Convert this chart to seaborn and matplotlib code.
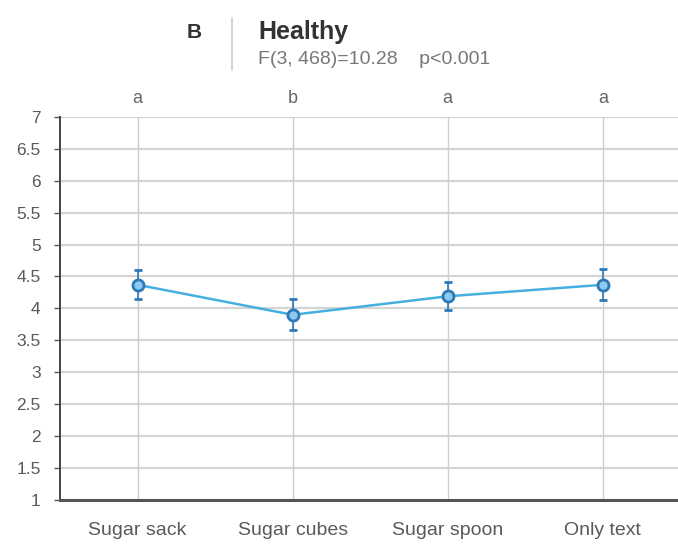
import matplotlib
matplotlib.use("Agg")
import matplotlib.pyplot as plt
import seaborn as sns
import pandas as pd

categories = ["Sugar sack", "Sugar cubes", "Sugar spoon", "Only text"]
means = [4.37, 3.90, 4.19, 4.37]
errors = [0.23, 0.24, 0.22, 0.24]
group_letters = ["a", "b", "a", "a"]
y_ticks = [1, 1.5, 2, 2.5, 3, 3.5, 4, 4.5, 5, 5.5, 6, 6.5, 7]
y_tick_labels = ["1", "1.5", "2", "2.5", "3", "3.5", "4", "4.5", "5", "5.5", "6", "6.5", "7"]

sns.set_style("white")
plt.rcParams["font.family"] = ["Liberation Sans", "DejaVu Sans"]

df = pd.DataFrame({"condition": categories, "score": means})

fig = plt.figure(figsize=(6.78, 5.45), dpi=100)
ax = fig.add_axes([0.0885, 0.0826, 0.915, 0.703])

line_col = "#45b0e0"
edge_col = "#2f78b8"

sns.pointplot(data=df, x="condition", y="score", errorbar=None, ax=ax,
              color=line_col, markers="o", linewidth=1.8, markersize=0, zorder=3)
ax.errorbar(range(len(categories)), means, yerr=errors, fmt="o", ms=8,
            mfc="#8ccbee", mec=edge_col, mew=2, ecolor=edge_col, elinewidth=1.2,
            capsize=3, capthick=1.2, zorder=4)

ax.set_xlim(-0.5, 3.5)
ax.set_ylim(1, 7)
ax.set_yticks(y_ticks)
ax.set_yticklabels(y_tick_labels)
ax.set_xlabel("")
ax.set_ylabel("")

for y in y_ticks[1:]:
    ax.axhline(y, color="#d4d4d4", lw=1.6, zorder=1)
for x in range(len(categories)):
    ax.axvline(x, color="#cfcfcf", lw=1.0, zorder=1)

for side in ["top", "right"]:
    ax.spines[side].set_visible(False)
ax.spines["left"].set_color("#444444")
ax.spines["left"].set_linewidth(1.4)
ax.spines["bottom"].set_color("#555555")
ax.spines["bottom"].set_linewidth(2.2)

ax.tick_params(axis="y", length=4, width=1, color="#555555", labelsize=12.5,
               labelcolor="#5a5a5a", pad=10, left=True)
ax.tick_params(axis="x", length=0, labelsize=14, labelcolor="#5a5a5a", pad=16)

for i, letter in enumerate(group_letters):
    ax.text(i, 7.15, letter, ha="center", va="bottom", fontsize=13, color="#666666")

fig.text(194 / 678, 1 - 33 / 545, "B", ha="center", va="center", fontsize=15,
         fontweight="bold", color="#333333")
fig.add_artist(plt.Line2D([232 / 678, 232 / 678], [1 - 18 / 545, 1 - 70 / 545],
                          color="#cccccc", lw=1.2))
fig.text(258 / 678, 1 - 32 / 545, "Healthy", ha="left", va="center", fontsize=18,
         fontweight="bold", color="#333333")
fig.text(258 / 678, 1 - 60 / 545, "F(3, 468)=10.28    p<0.001", ha="left", va="center",
         fontsize=14, color="#777777")

fig.savefig("out.png", dpi=100)
